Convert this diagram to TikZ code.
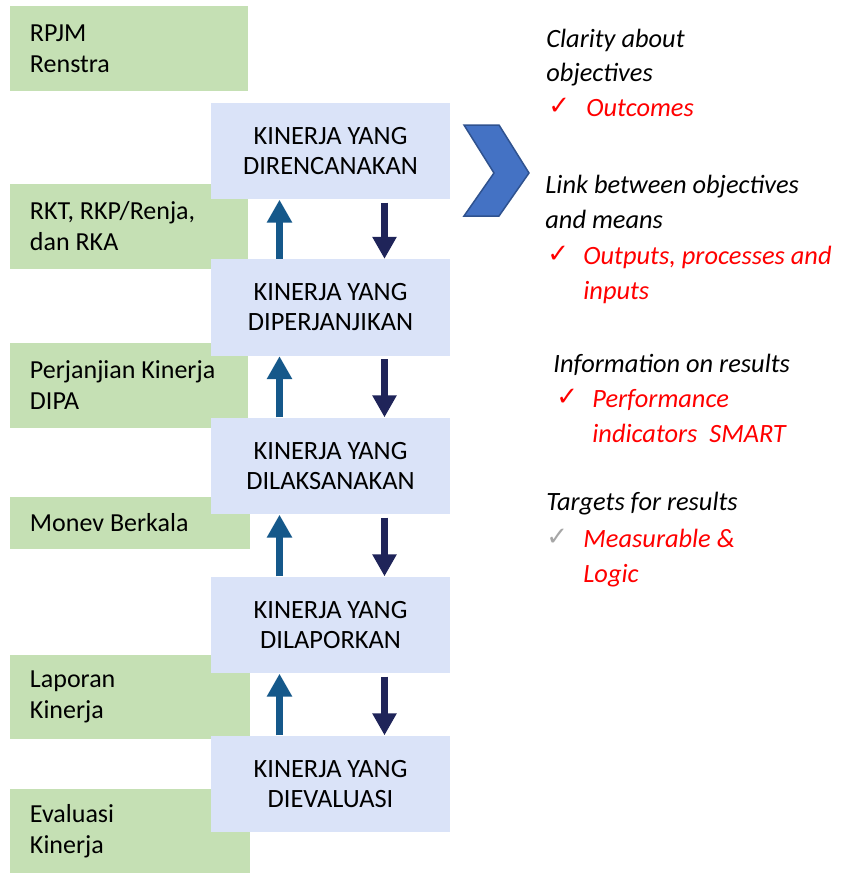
\documentclass[tikz,border=0pt]{standalone}
\usepackage{fontspec}
\setmainfont{Carlito}
\newfontfamily\symfont{DejaVu Sans}
\usetikzlibrary{arrows.meta}
\definecolor{stagefill}{HTML}{DAE3F8}
\definecolor{docfill}{HTML}{C5E0B4}
\definecolor{uparrow}{HTML}{15588A}
\definecolor{downarrow}{HTML}{1F2459}
\definecolor{chevfill}{HTML}{4472C4}
\definecolor{chevline}{HTML}{2F528F}
\definecolor{tickgrey}{HTML}{A6A6A6}

\begin{document}
\begin{tikzpicture}[x=0.5pt,y=-0.5pt,
  docbox/.style={fill=docfill, inner xsep=10pt, inner ysep=0pt, text width=99pt,
    align=flush left, font=\fontsize{13}{15.5}\selectfont},
  widedoc/.style={docbox, text width=100pt},
  stagebox/.style={fill=stagefill, minimum width=119.5pt, minimum height=48.25pt,
    inner sep=0pt, align=center, font=\fontsize{13.2}{15}\selectfont},
  upflow/.style={draw=uparrow, line width=3.5pt, -{Triangle[width=12pt,length=11.5pt]}},
  downflow/.style={draw=downarrow, line width=3.5pt, shorten <=1.5pt,
    -{Triangle[width=11.5pt,length=11pt]}},
  note/.style={anchor=base west, inner sep=0pt, font=\fontsize{13.2}{15}\selectfont\itshape},
  hit/.style={note, text=red},
  tick/.style={anchor=base west, inner sep=0pt, font=\symfont\fontsize{13}{15}\selectfont}
]
\useasboundingbox (0,0) rectangle (843,875);

% planning documents (left column)
\node[docbox, minimum height=42.5pt] (d1) at (129,48.5) {RPJM\\Renstra};
\node[docbox, minimum height=42.5pt] (d2) at (129,226.5) {RKT, RKP/Renja,\\dan RKA};
\node[docbox, minimum height=42.5pt] (d3) at (129,385.5) {Perjanjian Kinerja\\DIPA};
\node[widedoc, minimum height=26pt] (d4) at (130,523) {Monev Berkala};
\node[widedoc, minimum height=42pt] (d5) at (130,697) {Laporan\\Kinerja};
\node[widedoc, minimum height=42pt] (d6) at (130,831) {Evaluasi\\Kinerja};

% performance stages
\node[stagebox] (s1) at (330.5,151) {KINERJA YANG\\DIRENCANAKAN};
\node[stagebox] (s2) at (330.5,307.5) {KINERJA YANG\\DIPERJANJIKAN};
\node[stagebox] (s3) at (330.5,466) {KINERJA YANG\\DILAKSANAKAN};
\node[stagebox] (s4) at (330.5,625) {KINERJA YANG\\DILAPORKAN};
\node[stagebox] (s5) at (330.5,784) {KINERJA YANG\\DIEVALUASI};

% feedback (up) and flow (down) arrows between stages
\coordinate (upx) at (279.5,0);
\coordinate (dnx) at (384.5,0);
\foreach \a/\b in {s1/s2, s2/s3, s3/s4, s4/s5} {
  \draw[upflow] (\b.north -| upx) -- (\a.south -| upx);
  \draw[downflow] (\a.south -| dnx) -- (\b.north -| dnx);
}

% chevron
\filldraw[fill=chevfill, draw=chevline, line width=0.75pt]
  (464,125) -- (499,125) -- (529,173) -- (499,216) -- (464,216) -- (494,173) -- cycle;

% criteria
\node[note] (q1a) at (546,47) {Clarity about};
\node[note] (q1b) at (546,81) {objectives};
\node[tick, text=red] (t1) at (548,114) {✓};
\node[hit] (a1) at (586,116) {Outcomes};

\node[note] (q2a) at (545,193) {Link between objectives};
\node[note] (q2b) at (545,228) {and means};
\node[tick, text=red] (t2) at (547,262) {✓};
\node[hit] (a2a) at (583,264) {Outputs, processes and};
\node[hit] (a2b) at (583,299) {inputs};

\node[note] (q3) at (553,372) {Information on results};
\node[tick, text=red] (t3) at (556,405) {✓};
\node[hit] (a3a) at (592,407) {Performance};
\node[hit] (a3b) at (592,442) {indicators\ \ SMART};

\node[note] (q4) at (546,510) {Targets for results};
\node[tick, text=tickgrey] (t4) at (546,545) {✓};
\node[hit] (a4a) at (583,547) {Measurable \&};
\node[hit] (a4b) at (583,582) {Logic};
\end{tikzpicture}
\end{document}
